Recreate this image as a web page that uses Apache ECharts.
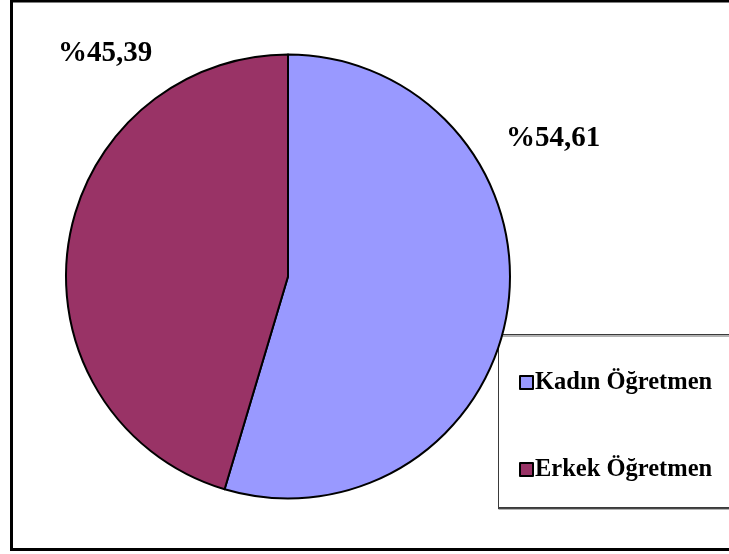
<!DOCTYPE html>
<html>
<head>
<meta charset="utf-8">
<style>
  html, body { margin: 0; padding: 0; background: #ffffff; }
  #chart { width: 729px; height: 554px; }
</style>
<script src="https://cdn.jsdelivr.net/npm/echarts@6/dist/echarts.min.js"></script>
</head>
<body>
<div id="chart"></div>
<script>
// Teacher distribution by gender (percent)
const categories = ['Kadın Öğretmen', 'Erkek Öğretmen'];
const values = [54.61, 45.39];
const colors = ['#9999FF', '#993366'];

// Where each percentage label sits
const labelSpots = [
  { x: 506, y: 139 },
  { x: 58, y: 54 }
];

const serif = '"Liberation Serif", "Times New Roman", serif';

const chart = echarts.init(document.getElementById('chart'), null, { renderer: 'canvas' });

const option = {
  backgroundColor: '#ffffff',
  animation: false,
  graphic: [
    {
      type: 'rect',
      shape: { x: 11.5, y: 1, width: 800, height: 548.5 },
      style: { fill: 'none', stroke: '#000', lineWidth: 3 },
      z: 0
    },
    {
      type: 'rect',
      shape: { x: 498.5, y: 334.5, width: 300, height: 173 },
      style: { fill: '#ffffff', stroke: '#3a3a3a', lineWidth: 1,
               shadowColor: 'rgba(0,0,0,0.6)', shadowOffsetY: 1.5, shadowBlur: 0 },
      z: 1
    }
  ],
  legend: {
    orient: 'vertical',
    left: 514,
    top: 365,
    itemWidth: 13,
    itemHeight: 13,
    itemGap: 62,
    icon: 'rect',
    data: categories,
    textStyle: {
      fontFamily: serif,
      fontWeight: 'bold',
      fontSize: 24.5,
      color: '#000',
      padding: [0, 0, 0, -3]
    },
    itemStyle: { borderColor: '#000', borderWidth: 2 },
    z: 5
  },
  series: [
    {
      type: 'pie',
      center: [288, 276.5],
      radius: 222,
      startAngle: 90,
      clockwise: true,
      avoidLabelOverlap: false,
      data: categories.map((name, i) => ({
        name: name,
        value: values[i],
        itemStyle: { color: colors[i] }
      })),
      itemStyle: { borderColor: '#000', borderWidth: 2 },
      emphasis: { disabled: true },
      label: {
        show: true,
        position: 'outside',
        formatter: p => '%' + p.value.toFixed(2).replace('.', ','),
        fontFamily: serif,
        fontWeight: 'bold',
        fontSize: 29,
        color: '#000'
      },
      labelLine: { show: false },
      labelLayout: params => ({
        x: labelSpots[params.dataIndex].x,
        y: labelSpots[params.dataIndex].y,
        align: 'left',
        verticalAlign: 'middle'
      }),
      z: 2
    }
  ]
};

chart.setOption(option);
</script>
</body>
</html>
